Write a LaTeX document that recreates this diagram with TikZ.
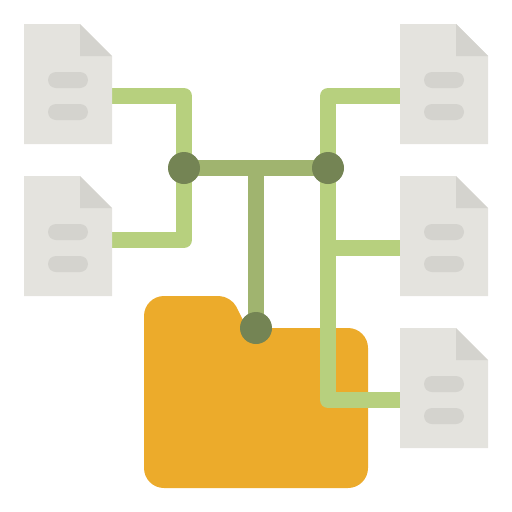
\documentclass[tikz,border=0pt]{standalone}
\usetikzlibrary{backgrounds}
\definecolor{folderfill}{HTML}{ECAB2B}
\definecolor{wirelight}{HTML}{B7D07E}
\definecolor{wiredark}{HTML}{A0B46F}
\definecolor{hubfill}{HTML}{748454}
\definecolor{pagefill}{HTML}{E4E3DE}
\definecolor{foldfill}{HTML}{D4D3CE}
\tikzset{
    wire/.style={wirelight,line width=16pt,line join=round},
    stem/.style={wiredark,line width=16pt},
    hub/.style={circle,fill=hubfill,minimum size=32pt,inner sep=0pt,outer sep=0pt},
    docfile/.pic={
        \fill[pagefill] (0,0) -- (56,0) -- (88,32) -- (88,120) -- (0,120) -- cycle;
        \fill[foldfill] (56,0) -- (88,32) -- (56,32) -- cycle;
        \fill[foldfill,rounded corners=8pt] (24,48) rectangle (64,64);
        \fill[foldfill,rounded corners=8pt] (24,80) rectangle (64,96);
        \coordinate (-east) at (88,72);
        \coordinate (-eastup) at (88,64);
        \coordinate (-west) at (0,72);
    }
}
\begin{document}
\begin{tikzpicture}[x=1pt,y=-1pt]
    \useasboundingbox (0,0) rectangle (512,512);
    \pic (docA) at (24,24) {docfile};
    \pic (docB) at (24,176) {docfile};
    \pic (docC) at (400,24) {docfile};
    \pic (docD) at (400,176) {docfile};
    \pic (docE) at (400,328) {docfile};
    \node[hub] (hubL) at (184,168) {};
    \node[hub] (hubR) at (328,168) {};
    \node[hub] (hubF) at (256,328) {};
    \coordinate (hubM) at (256,168);
    \begin{scope}[on background layer]
        \fill[folderfill,rounded corners=20pt] (144,488) -- (144,296) [rounded corners=12pt] -- (231,296) [sharp corners] -- (247,328) [rounded corners=20pt] -- (368,328) -- (368,488) -- cycle;
        \draw[stem] (hubL.center) -- (hubR.center);
        \draw[stem] (hubM) -- (hubF.center);
        \draw[wire] (docA-east) -| (hubL.center) |- (docB-eastup);
        \draw[wire] (docC-west) -| (hubR.center) |- (docE-west);
        \draw[wire] (docD-west) -| (hubR.center);
    \end{scope}
\end{tikzpicture}
\end{document}
